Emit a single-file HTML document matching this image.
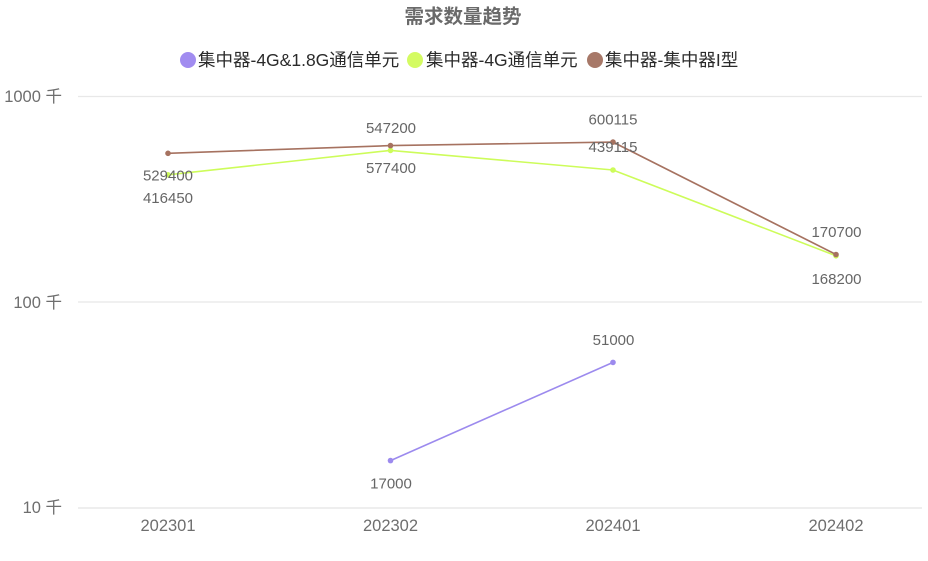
<!DOCTYPE html>
<html>
<head>
<meta charset="utf-8">
<style>
  html, body { margin: 0; padding: 0; background: #ffffff; }
  body { width: 928px; height: 561px; overflow: hidden; }
  svg { display: block; }
  .t { font-family: "Liberation Sans", "Noto Sans CJK SC", sans-serif; }
</style>
</head>
<body>
<svg width="928" height="561" viewBox="0 0 928 561" xmlns="http://www.w3.org/2000/svg">
  <rect x="0" y="0" width="928" height="561" fill="#ffffff"/>

  <!-- Title -->
  <text class="t" x="463" y="17" text-anchor="middle" dominant-baseline="central" font-size="19.5" font-weight="bold" fill="#6a6a6a">需求数量趋势</text>

  <!-- Legend -->
  <circle cx="188" cy="60" r="8" fill="#a18cf0"/>
  <text class="t" x="198" y="60" dominant-baseline="central" font-size="17.5" fill="#2a2a2a">集中器-4G&amp;1.8G通信单元</text>
  <circle cx="415" cy="60" r="8" fill="#d4fb62"/>
  <text class="t" x="426" y="60" dominant-baseline="central" font-size="17.5" fill="#2a2a2a">集中器-4G通信单元</text>
  <circle cx="595" cy="60" r="8" fill="#a77868"/>
  <text class="t" x="605" y="60" dominant-baseline="central" font-size="17.5" fill="#2a2a2a">集中器-集中器I型</text>

  <!-- Grid lines -->
  <line x1="78" y1="96.5" x2="922" y2="96.5" stroke="#e8e8e8" stroke-width="1.2"/>
  <line x1="78" y1="302" x2="922" y2="302" stroke="#e8e8e8" stroke-width="1.2"/>
  <line x1="78" y1="508" x2="922" y2="508" stroke="#e4e4e4" stroke-width="1.2"/>

  <!-- Y labels -->
  <text class="t" x="62" y="97" text-anchor="end" dominant-baseline="central" font-size="16.5" fill="#6e6e6e">1000 千</text>
  <text class="t" x="62" y="303" text-anchor="end" dominant-baseline="central" font-size="16.5" fill="#6e6e6e">100 千</text>
  <text class="t" x="62" y="508" text-anchor="end" dominant-baseline="central" font-size="16.5" fill="#6e6e6e">10 千</text>

  <!-- X labels -->
  <text class="t" x="168" y="526" text-anchor="middle" dominant-baseline="central" font-size="16.5" fill="#6e6e6e">202301</text>
  <text class="t" x="390.5" y="526" text-anchor="middle" dominant-baseline="central" font-size="16.5" fill="#6e6e6e">202302</text>
  <text class="t" x="613" y="526" text-anchor="middle" dominant-baseline="central" font-size="16.5" fill="#6e6e6e">202401</text>
  <text class="t" x="836" y="526" text-anchor="middle" dominant-baseline="central" font-size="16.5" fill="#6e6e6e">202402</text>

  <!-- Purple series -->
  <polyline points="390.5,460.6 613,362.4" fill="none" stroke="#9c8aee" stroke-width="1.6"/>
  <circle cx="390.5" cy="460.6" r="2.8" fill="#9c8aee"/>
  <circle cx="613" cy="362.4" r="2.8" fill="#9c8aee"/>

  <!-- Green series -->
  <polyline points="168,174.8 390.5,150.4 613,170 836,255.8" fill="none" stroke="#cdfc5a" stroke-width="1.6"/>
  <circle cx="168" cy="174.8" r="2.8" fill="#cdfc5a"/>
  <circle cx="390.5" cy="150.4" r="2.8" fill="#cdfc5a"/>
  <circle cx="613" cy="170" r="2.8" fill="#cdfc5a"/>
  <circle cx="836" cy="255.8" r="2.8" fill="#cdfc5a"/>

  <!-- Brown series -->
  <polyline points="168,153.3 390.5,145.6 613,142.1 836,254.5" fill="none" stroke="#a67260" stroke-width="1.6"/>
  <circle cx="168" cy="153.3" r="2.8" fill="#a67260"/>
  <circle cx="390.5" cy="145.6" r="2.8" fill="#a67260"/>
  <circle cx="613" cy="142.1" r="2.8" fill="#a67260"/>
  <circle cx="836" cy="254.5" r="2.8" fill="#a67260"/>

  <!-- Data labels -->
  <g class="t" font-size="15" fill="#666666" text-anchor="middle" dominant-baseline="central">
    <text x="168" y="176">529400</text>
    <text x="168" y="198.5">416450</text>
    <text x="391" y="128.3">547200</text>
    <text x="391" y="168.3">577400</text>
    <text x="613" y="120">600115</text>
    <text x="613" y="147.7">439115</text>
    <text x="836.5" y="232.3">170700</text>
    <text x="836.5" y="279.3">168200</text>
    <text x="613.5" y="340.7">51000</text>
    <text x="391" y="484">17000</text>
  </g>
</svg>
</body>
</html>
